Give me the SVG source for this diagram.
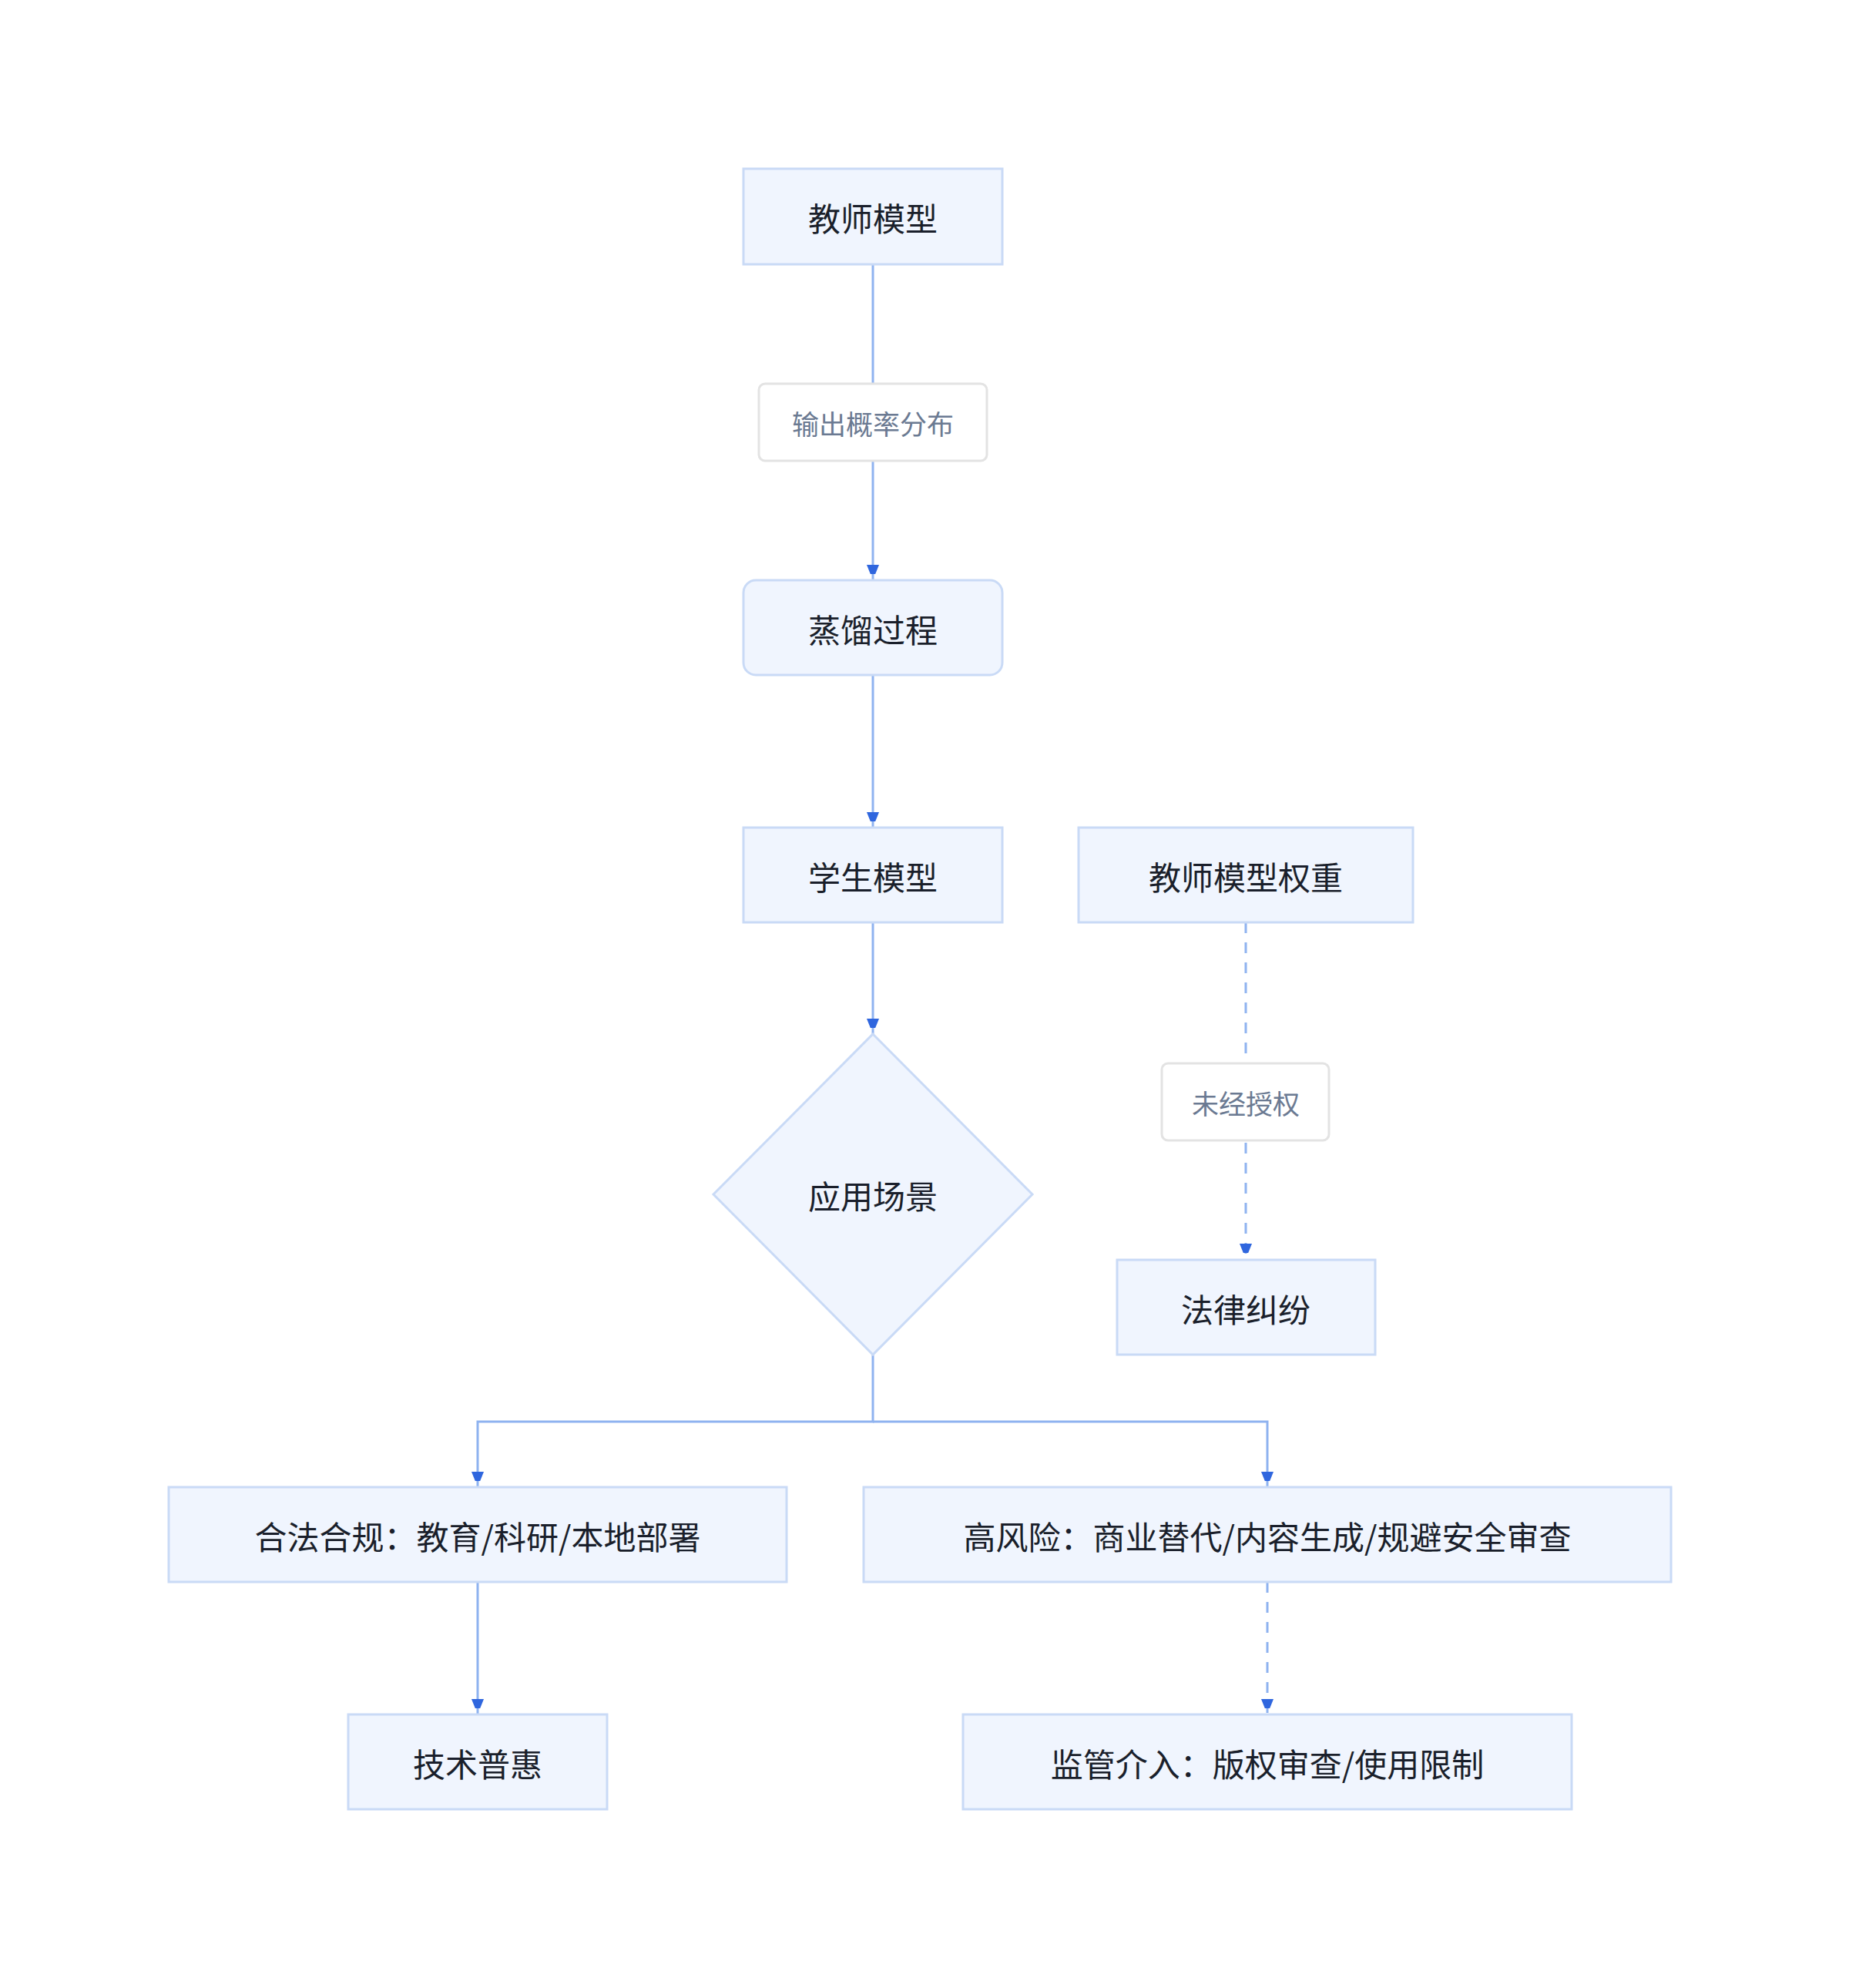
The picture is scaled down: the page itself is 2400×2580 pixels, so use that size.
<svg xmlns="http://www.w3.org/2000/svg" width="2400" height="2580" viewBox="0 0 2400 2580">
<style>
.n{fill:#f0f5fe;stroke:#c9daf6;stroke-width:3}
.t{font-family:"Noto Sans CJK SC","Noto Sans",sans-serif;font-size:42px;fill:#1a1f2b;text-anchor:middle;dominant-baseline:central}
.lb{fill:#fff;stroke:#e3e3e3;stroke-width:3}
.lt{font-family:"Noto Sans CJK SC","Noto Sans",sans-serif;font-size:35px;fill:#6b7a92;text-anchor:middle;dominant-baseline:central}
.e{fill:none;stroke:#8fb3f0;stroke-width:3}
.d{stroke-dasharray:14 12}
</style>
<defs><marker id="a" viewBox="0 0 10 10" refX="10" refY="5" markerWidth="7" markerHeight="9" markerUnits="userSpaceOnUse" orient="auto"><path d="M0,0L10,5L0,10z" fill="#2f66de" transform="scale(1)"/></marker>
<marker id="m" viewBox="0 0 12 20" refX="20" refY="10" markerWidth="12" markerHeight="20" markerUnits="userSpaceOnUse" orient="auto"><path d="M0,2L20,10L0,18z" fill="#2f66de"/></marker></defs>
<g id="edges">
<path class="e" d="M1133,343V753" marker-end="url(#m)"/>
<path class="e" d="M1133,876V1074" marker-end="url(#m)"/>
<path class="e" d="M1133,1197V1342" marker-end="url(#m)"/>
<path class="e d" d="M1617,1197V1634" marker-end="url(#m)"/>
<path class="e" d="M1133,1758V1845H620V1930" marker-end="url(#m)"/>
<path class="e" d="M1133,1845H1645V1930" marker-end="url(#m)"/>
<path class="e" d="M620,2053V2225" marker-end="url(#m)"/>
<path class="e d" d="M1645,2053V2225" marker-end="url(#m)"/>
<g id="l1"><rect class="lb" x="985" y="498" width="296" height="100" rx="8"/><text class="lt" x="1133" y="548">输出概率分布</text></g>
<g id="l2"><rect class="lb" x="1508" y="1380" width="217" height="100" rx="8"/><text class="lt" x="1617" y="1430">未经授权</text></g>
</g>
<g id="n1"><rect class="n" x="965" y="219" width="336" height="124"/><text class="t" x="1133" y="281">教师模型</text></g>
<g id="n2"><rect class="n" x="965" y="753" width="336" height="123" rx="16"/><text class="t" x="1133" y="815">蒸馏过程</text></g>
<g id="n3"><rect class="n" x="965" y="1074" width="336" height="123"/><text class="t" x="1133" y="1136">学生模型</text></g>
<g id="n4"><rect class="n" x="1400" y="1074" width="434" height="123"/><text class="t" x="1617" y="1136">教师模型权重</text></g>
<g id="n5"><path class="n" d="M1133,1342L1340,1550L1133,1758L926,1550Z"/><text class="t" x="1133" y="1550">应用场景</text></g>
<g id="n6"><rect class="n" x="1450" y="1635" width="335" height="123"/><text class="t" x="1617" y="1697">法律纠纷</text></g>
<g id="n7"><rect class="n" x="219" y="1930" width="802" height="123"/><text class="t" x="620" y="1992">合法合规：教育/科研/本地部署</text></g>
<g id="n8"><rect class="n" x="1121" y="1930" width="1048" height="123"/><text class="t" x="1645" y="1992">高风险：商业替代/内容生成/规避安全审查</text></g>
<g id="n9"><rect class="n" x="452" y="2225" width="336" height="123"/><text class="t" x="620" y="2287">技术普惠</text></g>
<g id="n10"><rect class="n" x="1250" y="2225" width="790" height="123"/><text class="t" x="1645" y="2287">监管介入：版权审查/使用限制</text></g>
</svg>
